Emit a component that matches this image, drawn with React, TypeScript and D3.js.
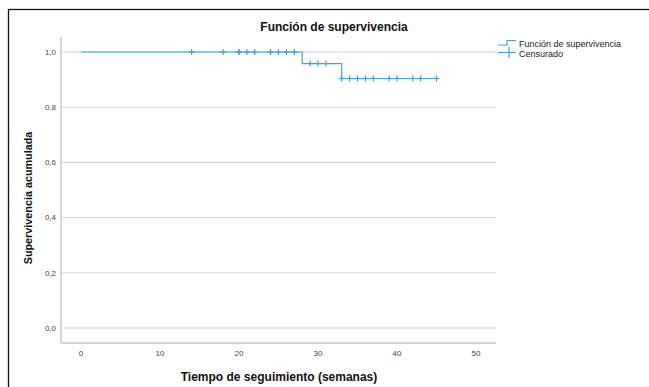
import React from "react";
import * as d3 from "d3";

const stepTimes = [0, 28, 33, 45];
const stepSurvival = [1.0, 0.958, 0.904, 0.904];
const censorTimes = [14, 18, 20, 20, 21, 22, 24, 25, 26, 27, 29, 30, 31, 33, 34, 35, 36, 37, 39, 40, 42, 43, 45];
const xTicks = [0, 10, 20, 30, 40, 50];
const yTicks = [0, 0.2, 0.4, 0.6, 0.8, 1.0];
const titleText = "Función de supervivencia";
const xTitle = "Tiempo de seguimiento (semanas)";
const yTitle = "Supervivencia acumulada";
const legendLabels = ["Función de supervivencia", "Censurado"];

function survivalAt(t: number): number {
  let s = stepSurvival[0];
  for (let i = 0; i < stepTimes.length; i++) {
    if (stepTimes[i] <= t) s = stepSurvival[i];
  }
  return s;
}

export default function App() {
  const W = 649, H = 387;
  const x = d3.scaleLinear().domain([0, 50]).range([81, 476]);
  const y = d3.scaleLinear().domain([0, 1]).range([328, 52]);
  const axisLeft = 61, axisRight = 496, axisTop = 37, axisBottom = 343;
  const lineColor = "#45a2c8";
  const censorColor = "#4a9ed6";
  const font = "'Liberation Sans', Arial, sans-serif";

  const pts: [number, number][] = stepTimes.map((t, i) => [t, stepSurvival[i]]);
  const line = d3
    .line<[number, number]>()
    .x((d) => x(d[0]))
    .y((d) => y(d[1]))
    .curve(d3.curveStepAfter);

  return (
    <svg width={W} height={H} style={{ position: "absolute", left: 0, top: 0, background: "#fff" }} fontFamily={font}>
      <rect x={0} y={0} width={W} height={H} fill="#fff" />
      <rect x={8.5} y={9.5} width={800} height={600} fill="none" stroke="#111" strokeWidth={1.3} />
      {yTicks.map((t) => (
        <line key={"g" + t} x1={axisLeft} x2={axisRight} y1={y(t)} y2={y(t)} stroke="#d2d2d2" strokeWidth={1} />
      ))}
      <line x1={axisLeft} x2={axisLeft} y1={axisTop} y2={axisBottom} stroke="#c8c8c8" strokeWidth={1.5} />
      <line x1={axisLeft} x2={axisRight} y1={axisBottom} y2={axisBottom} stroke="#c8c8c8" strokeWidth={1.5} />
      {yTicks.map((t) => (
        <text key={"yl" + t} x={56} y={y(t)} dy="0.35em" textAnchor="end" fontSize={8} fill="#444">
          {t.toFixed(1).replace(".", ",")}
        </text>
      ))}
      {xTicks.map((t) => (
        <text key={"xl" + t} x={x(t)} y={353} dy="0.35em" textAnchor="middle" fontSize={8} fill="#444">
          {t}
        </text>
      ))}
      <path d={line(pts) || ""} fill="none" stroke={lineColor} strokeWidth={1.2} />
      {censorTimes.map((t, i) => {
        const cx = x(t), cy = y(survivalAt(t));
        return (
          <g key={"c" + i} stroke={censorColor} strokeWidth={1.2}>
            <line x1={cx - 3} x2={cx + 3} y1={cy} y2={cy} />
            <line x1={cx} x2={cx} y1={cy - 3} y2={cy + 3} />
          </g>
        );
      })}
      <text x={334} y={31} textAnchor="middle" fontSize={12} fontWeight="bold" fill="#111">
        {titleText}
      </text>
      <text x={279} y={381} textAnchor="middle" fontSize={12} fontWeight="bold" fill="#111">
        {xTitle}
      </text>
      <text transform={`translate(32,198) rotate(-90)`} textAnchor="middle" fontSize={10.8} fontWeight="bold" fill="#111">
        {yTitle}
      </text>
      <g>
        <path d="M498,45 H507 V40.5 H516" fill="none" stroke={lineColor} strokeWidth={1.2} />
        <text x={519} y={44} dy="0.35em" fontSize={9} fill="#222">{legendLabels[0]}</text>
        <line x1={498} x2={516} y1={52.5} y2={52.5} stroke={censorColor} strokeWidth={1.2} />
        <line x1={509} x2={509} y1={47} y2={58} stroke={censorColor} strokeWidth={1.2} />
        <text x={519} y={54} dy="0.35em" fontSize={9} fill="#222">{legendLabels[1]}</text>
      </g>
    </svg>
  );
}
